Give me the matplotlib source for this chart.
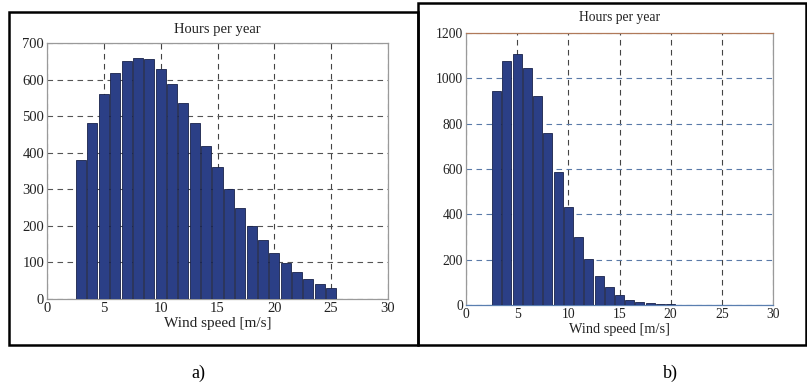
import matplotlib
matplotlib.use("Agg")
import matplotlib.pyplot as plt
from matplotlib.patches import Rectangle

# ---- data ----
speeds = list(range(3, 26))
hours_a = [380, 480, 560, 617, 650, 660, 655, 628, 587, 537, 480, 418,
           360, 302, 250, 200, 162, 125, 98, 75, 56, 42, 30]
hours_b = [942, 1078, 1109, 1047, 920, 757, 588, 433, 302, 202, 127, 78,
           43, 24, 13, 7, 4, 3, 2, 2, 1, 1, 1]
xticks = [0, 5, 10, 15, 20, 25, 30]
yticks_a = [0, 100, 200, 300, 400, 500, 600, 700]
yticks_b = [0, 200, 400, 600, 800, 1000, 1200]
title = "Hours per year"
xlabel = "Wind speed [m/s]"

plt.rcParams['font.family'] = ['Liberation Serif', 'DejaVu Serif']

W, H = 807, 392
fig = plt.figure(figsize=(W / 100, H / 100), dpi=100)

def fx(px):
    return px / W

def fy(py):
    return 1 - py / H

bar_color = '#2b3f86'
edge_color = '#18224a'

def make_axes(l, r, t, b, vals, yticks, ymax, hgrid_color, tsize, title_y, xlab_y):
    ax = fig.add_axes([fx(l), fy(b), fx(r) - fx(l), fy(t) - fy(b)])
    ax.bar(speeds, vals, width=0.88, color=bar_color, edgecolor=edge_color,
           linewidth=0.6, zorder=3)
    ax.set_xlim(0, 30)
    ax.set_ylim(0, ymax)
    ax.set_xticks(xticks)
    ax.set_yticks(yticks)
    ax.tick_params(length=0, labelsize=tsize, pad=2, colors='#222222')
    ax.xaxis.grid(True, linestyle=(0, (5, 4)), color='#444444', linewidth=0.8, zorder=1)
    ax.yaxis.grid(True, linestyle=(0, (5, 4)), color=hgrid_color, linewidth=0.8, zorder=1)
    ax.set_axisbelow(True)
    for s in ax.spines.values():
        s.set_color('#9a9a9a')
        s.set_linewidth(0.9)
    cx = (l + r) / 2
    fig.text(fx(cx), fy(title_y), title, ha='center', va='center', fontsize=tsize, color='#222222')
    fig.text(fx(cx), fy(xlab_y), xlabel, ha='center', va='center', fontsize=tsize + 0.5, color='#222222')
    return ax

ax1 = make_axes(47, 388, 43, 299, hours_a, yticks_a, 700, '#555555', 10.5, 29, 323)
ax2 = make_axes(466, 773, 33, 305, hours_b, yticks_b, 1200, '#5a7aa8', 9.8, 18, 330)
ax2.spines['top'].set_color('#b07a5a')
ax2.spines['bottom'].set_color('#5a7fb0')

# frames around panels
fig.patches.append(Rectangle((fx(9), fy(345)), fx(418) - fx(9), fy(12) - fy(345),
                             transform=fig.transFigure, fill=False, lw=1.8, edgecolor='black'))
fig.patches.append(Rectangle((fx(418), fy(345)), fx(806) - fx(418), fy(3) - fy(345),
                             transform=fig.transFigure, fill=False, lw=1.8, edgecolor='black'))

fig.text(fx(198), fy(373), "a)", ha='center', va='center', fontsize=13)
fig.text(fx(670), fy(373), "b)", ha='center', va='center', fontsize=13)

fig.savefig("out.png", dpi=100)
